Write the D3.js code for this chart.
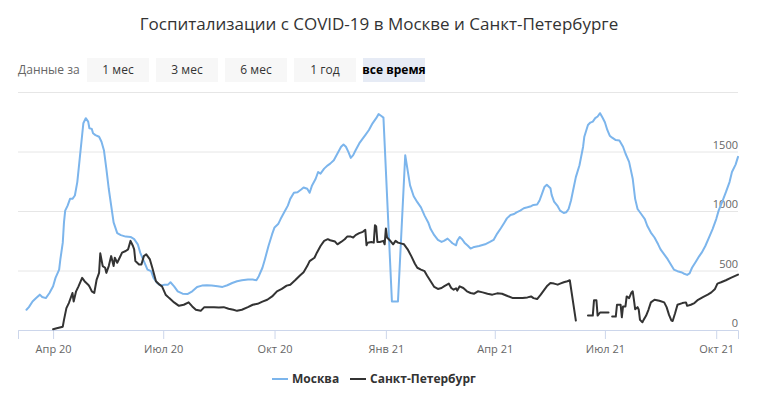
<!DOCTYPE html>
<html><head><meta charset="utf-8">
<script src="https://cdn.jsdelivr.net/npm/d3@7"></script>
<style>
html,body{margin:0;padding:0;background:#fff;}
svg{display:block;font-family:"Open Sans",sans-serif;}
</style></head>
<body><svg id="c" width="758" height="393"></svg>
<script>
const title = "Госпитализации с COVID-19 в Москве и Санкт-Петербурге";
const rangeLabel = "Данные за";
const buttons = ["1 мес","3 мес","6 мес","1 год","все время"];
const activeButton = 4;
const seriesNames = ["Москва","Санкт-Петербург"];
const monthNames = ["Янв","Фев","Мар","Апр","Май","Июн","Июл","Авг","Сен","Окт","Ноя","Дек"];
const yTicks = [0,500,1000,1500,2000];
const xTicks = ["2020-04-01","2020-07-01","2020-10-01","2021-01-01","2021-04-01","2021-07-01","2021-10-01"];

const moscow = [
["2020-03-10",170],["2020-03-12",192],["2020-03-15",240],["2020-03-18",268],["2020-03-21",297],["2020-03-23",277],["2020-03-26",268],["2020-03-29",311],
["2020-04-01",367],["2020-04-03",438],["2020-04-06",508],["2020-04-07",593],["2020-04-09",734],["2020-04-10",904],["2020-04-11",1003],["2020-04-13",1045],
["2020-04-15",1102],["2020-04-17",1102],["2020-04-19",1130],["2020-04-21",1243],["2020-04-23",1440],["2020-04-25",1638],["2020-04-26",1737],["2020-04-28",1780],
["2020-04-30",1751],["2020-05-01",1695],["2020-05-03",1690],["2020-05-04",1653],["2020-05-06",1638],["2020-05-09",1624],["2020-05-11",1582],["2020-05-13",1511],
["2020-05-15",1356],["2020-05-17",1187],["2020-05-19",1045],["2020-05-21",904],["2020-05-24",814],["2020-05-27",797],["2020-05-31",785],["2020-06-04",782],
["2020-06-07",763],["2020-06-10",720],["2020-06-12",650],["2020-06-15",579],["2020-06-18",508],["2020-06-21",494],["2020-06-23",438],["2020-06-26",395],
["2020-06-29",373],["2020-07-02",381],["2020-07-05",381],["2020-07-07",401],["2020-07-10",367],["2020-07-13",325],["2020-07-17",305],["2020-07-21",302],
["2020-07-25",325],["2020-07-29",362],["2020-08-02",373],["2020-08-06",376],["2020-08-10",373],["2020-08-15",367],["2020-08-19",362],["2020-08-23",376],
["2020-08-27",395],["2020-08-31",410],["2020-09-04",418],["2020-09-09",424],["2020-09-13",424],["2020-09-16",418],["2020-09-18",452],["2020-09-21",523],
["2020-09-23",593],["2020-09-26",706],["2020-09-29",805],["2020-10-01",862],["2020-10-04",890],["2020-10-06",932],["2020-10-09",989],["2020-10-12",1045],
["2020-10-14",1102],["2020-10-17",1153],["2020-10-20",1158],["2020-10-23",1181],["2020-10-25",1198],["2020-10-28",1187],["2020-10-30",1153],["2020-11-01",1215],
["2020-11-04",1271],["2020-11-06",1328],["2020-11-08",1314],["2020-11-11",1356],["2020-11-14",1384],["2020-11-16",1398],["2020-11-19",1427],["2020-11-22",1483],
["2020-11-25",1540],["2020-11-27",1559],["2020-11-29",1540],["2020-12-01",1497],["2020-12-03",1446],["2020-12-05",1469],["2020-12-07",1511],["2020-12-10",1568],
["2020-12-13",1610],["2020-12-15",1638],["2020-12-18",1681],["2020-12-21",1737],["2020-12-24",1780],["2020-12-26",1814],["2020-12-28",1800],["2020-12-30",1785],
["2021-01-06",240],["2021-01-11",240],["2021-01-17",1469],["2021-01-19",1342],["2021-01-21",1215],["2021-01-24",1124],["2021-01-27",1074],["2021-01-30",1031],
["2021-02-02",961],["2021-02-05",904],["2021-02-07",848],["2021-02-10",797],["2021-02-13",757],["2021-02-16",740],["2021-02-18",749],["2021-02-21",768],
["2021-02-23",749],["2021-02-25",729],["2021-02-28",712],["2021-03-01",749],["2021-03-03",782],["2021-03-05",763],["2021-03-07",734],["2021-03-10",706],
["2021-03-12",684],["2021-03-15",698],["2021-03-19",706],["2021-03-24",720],["2021-03-28",740],["2021-03-31",757],["2021-04-03",810],["2021-04-06",855],
["2021-04-09",904],["2021-04-11",938],["2021-04-14",966],["2021-04-17",975],["2021-04-19",989],["2021-04-22",1003],["2021-04-25",1023],["2021-04-28",1031],
["2021-05-01",1040],["2021-05-03",1051],["2021-05-06",1054],["2021-05-08",1088],["2021-05-10",1144],["2021-05-12",1201],["2021-05-14",1220],["2021-05-17",1192],
["2021-05-18",1136],["2021-05-20",1079],["2021-05-23",1040],["2021-05-25",1003],["2021-05-28",983],["2021-05-30",989],["2021-06-01",1017],["2021-06-03",1088],
["2021-06-05",1187],["2021-06-07",1285],["2021-06-10",1384],["2021-06-13",1540],["2021-06-14",1624],["2021-06-17",1723],["2021-06-19",1743],["2021-06-21",1751],
["2021-06-23",1780],["2021-06-25",1794],["2021-06-27",1822],["2021-06-29",1785],["2021-07-01",1746],["2021-07-03",1681],["2021-07-05",1633],["2021-07-07",1616],
["2021-07-10",1596],["2021-07-13",1592],["2021-07-16",1540],["2021-07-18",1483],["2021-07-21",1413],["2021-07-24",1271],["2021-07-26",1102],["2021-07-28",1017],
["2021-07-31",975],["2021-08-03",932],["2021-08-05",876],["2021-08-08",819],["2021-08-11",777],["2021-08-14",720],["2021-08-16",678],["2021-08-19",636],
["2021-08-22",593],["2021-08-25",542],["2021-08-27",508],["2021-08-30",494],["2021-09-02",486],["2021-09-04",475],["2021-09-07",463],["2021-09-09",475],
["2021-09-11",523],["2021-09-14",571],["2021-09-17",621],["2021-09-19",650],["2021-09-22",706],["2021-09-25",777],["2021-09-28",848],["2021-10-01",932],
["2021-10-03",1003],["2021-10-06",1079],["2021-10-09",1158],["2021-10-12",1243],["2021-10-14",1328],["2021-10-17",1390],["2021-10-19",1455]
];

const spb = [
["2020-04-01",6],["2020-04-04",14],["2020-04-09",28],["2020-04-10",85],["2020-04-12",184],["2020-04-14",226],["2020-04-15",254],["2020-04-17",311],
["2020-04-18",240],["2020-04-20",325],["2020-04-22",367],["2020-04-25",438],["2020-04-27",410],["2020-04-30",381],["2020-05-01",367],["2020-05-03",325],
["2020-05-05",311],["2020-05-07",424],["2020-05-09",480],["2020-05-10",644],["2020-05-12",537],["2020-05-14",523],["2020-05-15",480],["2020-05-17",537],
["2020-05-19",621],["2020-05-21",537],["2020-05-22",607],["2020-05-24",565],["2020-05-26",607],["2020-05-28",650],["2020-05-31",664],["2020-06-02",678],
["2020-06-04",749],["2020-06-06",706],["2020-06-07",678],["2020-06-08",579],["2020-06-11",551],["2020-06-13",551],["2020-06-15",621],["2020-06-17",636],
["2020-06-20",593],["2020-06-22",523],["2020-06-25",410],["2020-06-28",381],["2020-06-30",367],["2020-07-03",297],["2020-07-06",268],["2020-07-10",232],
["2020-07-14",203],["2020-07-18",212],["2020-07-22",232],["2020-07-25",198],["2020-07-28",170],["2020-08-01",161],["2020-08-04",192],["2020-08-08",192],
["2020-08-12",192],["2020-08-16",189],["2020-08-20",192],["2020-08-24",178],["2020-08-28",170],["2020-08-31",161],["2020-09-04",170],["2020-09-09",192],
["2020-09-13",212],["2020-09-17",220],["2020-09-21",238],["2020-09-25",254],["2020-09-29",282],["2020-10-03",325],["2020-10-07",345],["2020-10-11",373],
["2020-10-14",381],["2020-10-18",418],["2020-10-22",458],["2020-10-25",486],["2020-10-28",537],["2020-10-30",579],["2020-11-03",607],["2020-11-05",650],
["2020-11-08",706],["2020-11-11",749],["2020-11-14",763],["2020-11-16",754],["2020-11-20",743],["2020-11-22",720],["2020-11-25",740],["2020-11-28",763],
["2020-11-30",785],["2020-12-03",785],["2020-12-05",777],["2020-12-07",797],["2020-12-10",814],["2020-12-13",825],["2020-12-15",842],["2020-12-16",712],
["2020-12-17",734],["2020-12-20",740],["2020-12-22",734],["2020-12-23",881],["2020-12-24",870],["2020-12-25",740],["2020-12-27",740],["2020-12-30",749],
["2020-12-31",720],["2021-01-01",853],["2021-01-02",777],["2021-01-04",757],["2021-01-07",720],["2021-01-09",749],["2021-01-11",734],["2021-01-14",726],
["2021-01-16",720],["2021-01-19",678],["2021-01-22",621],["2021-01-25",557],["2021-01-27",523],["2021-01-30",508],["2021-02-02",494],["2021-02-04",458],
["2021-02-07",410],["2021-02-10",362],["2021-02-13",345],["2021-02-16",353],["2021-02-18",367],["2021-02-22",390],["2021-02-24",353],["2021-02-26",339],
["2021-02-28",350],["2021-03-01",331],["2021-03-03",367],["2021-03-06",353],["2021-03-09",325],["2021-03-12",311],["2021-03-15",305],["2021-03-18",325],
["2021-03-22",316],["2021-03-26",305],["2021-03-30",297],["2021-04-03",308],["2021-04-07",305],["2021-04-11",288],["2021-04-16",268],["2021-04-20",268],
["2021-04-24",268],["2021-04-28",274],["2021-05-01",282],["2021-05-03",268],["2021-05-06",260],["2021-05-09",297],["2021-05-12",339],["2021-05-14",367],
["2021-05-17",395],["2021-05-20",390],["2021-05-23",381],["2021-05-25",390],["2021-05-28",401],["2021-05-31",410],["2021-06-02",418],["2021-06-07",79],
["2021-06-12",null],
["2021-06-17",121],["2021-06-21",121],["2021-06-22",249],["2021-06-24",249],["2021-06-25",121],["2021-06-27",147],["2021-07-04",147],
["2021-07-06",null],
["2021-07-07",113],["2021-07-10",113],["2021-07-11",212],["2021-07-14",212],["2021-07-15",107],["2021-07-16",198],["2021-07-18",198],["2021-07-19",282],
["2021-07-21",268],["2021-07-23",316],["2021-07-24",325],["2021-07-25",254],["2021-07-26",175],["2021-07-28",192],["2021-07-29",170],["2021-07-30",85],
["2021-08-01",65],["2021-08-02",85],["2021-08-04",119],["2021-08-06",170],["2021-08-08",232],["2021-08-11",254],["2021-08-15",246],["2021-08-19",232],
["2021-08-21",192],["2021-08-23",127],["2021-08-25",79],["2021-08-26",76],["2021-08-28",141],["2021-08-30",212],["2021-09-03",226],["2021-09-06",232],
["2021-09-07",203],["2021-09-10",212],["2021-09-13",226],["2021-09-16",254],["2021-09-20",277],["2021-09-24",297],["2021-09-27",316],["2021-09-30",345],
["2021-10-02",390],["2021-10-05",401],["2021-10-09",418],["2021-10-13",438],["2021-10-19",466]
];

const colors = ["#7cb5ec","#333333"];
const parse = d3.utcParse("%Y-%m-%d");

const svg = d3.select("#c");
const L = 18, R = 738, T = 92, B = 330;
const x = d3.scaleUtc().domain([parse("2020-03-03"), parse("2021-10-19")]).range([L, R]);
const y = d3.scaleLinear().domain([0, 2000]).range([B, T]);

// title
svg.append("text").attr("x", 379).attr("y", 30).attr("text-anchor","middle")
  .attr("font-size", 17).attr("fill", "#333333").text(title);

// range selector
svg.append("text").attr("x", 18).attr("y", 74).attr("font-size", 12).attr("fill", "#666666").text(rangeLabel);
const bg = svg.append("g");
buttons.forEach((b, i) => {
  const bx = 87 + i * 69;
  bg.append("rect").attr("x", bx).attr("y", 58).attr("width", 62).attr("height", 24)
    .attr("fill", i === activeButton ? "#e6ebf5" : "#f7f7f7");
  bg.append("text").attr("x", bx + 31).attr("y", 74).attr("text-anchor", "middle")
    .attr("font-size", 12).attr("fill", i === activeButton ? "#000000" : "#333333")
    .attr("font-weight", i === activeButton ? "bold" : "normal").text(b);
});

// grid
const grid = svg.append("g");
yTicks.forEach(v => {
  grid.append("line").attr("x1", L).attr("x2", R).attr("y1", y(v) + 0.5).attr("y2", y(v) + 0.5)
    .attr("stroke", "#e6e6e6").attr("stroke-width", 1);
  if (v < 2000) grid.append("text").attr("x", R).attr("y", y(v) - 3).attr("text-anchor", "end")
    .attr("font-size", 11).attr("fill", "#666666").text(v);
});

// x axis
const xa = svg.append("g").attr("transform", `translate(0,${B})`)
  .call(d3.axisBottom(x).tickValues(xTicks.map(parse)).tickSize(9).tickPadding(6)
    .tickFormat(d => monthNames[d.getUTCMonth()] + " " + String(d.getUTCFullYear()).slice(2)));
xa.select(".domain").attr("stroke", "#ccd6eb");
xa.selectAll(".tick line").attr("stroke", "#ccd6eb");
xa.selectAll(".tick text").attr("fill", "#666666").attr("font-size", 11).attr("font-family", "Open Sans, sans-serif");

// lines
const line = d3.line().defined(d => d[1] !== null).x(d => x(parse(d[0]))).y(d => y(d[1]));
[moscow, spb].forEach((s, i) => {
  svg.append("path").datum(s).attr("d", line).attr("fill", "none")
    .attr("stroke", colors[i]).attr("stroke-width", 2).attr("stroke-linejoin", "round").attr("stroke-linecap", "round");
});

// legend
const lg = svg.append("g");
const legX = [272, 350];
seriesNames.forEach((n, i) => {
  lg.append("line").attr("x1", legX[i]).attr("x2", legX[i] + 16).attr("y1", 379).attr("y2", 379)
    .attr("stroke", colors[i]).attr("stroke-width", 2);
  lg.append("text").attr("x", legX[i] + 20).attr("y", 383).attr("font-size", 12)
    .attr("font-weight", "bold").attr("fill", "#333333").text(n);
});
</script></body></html>
